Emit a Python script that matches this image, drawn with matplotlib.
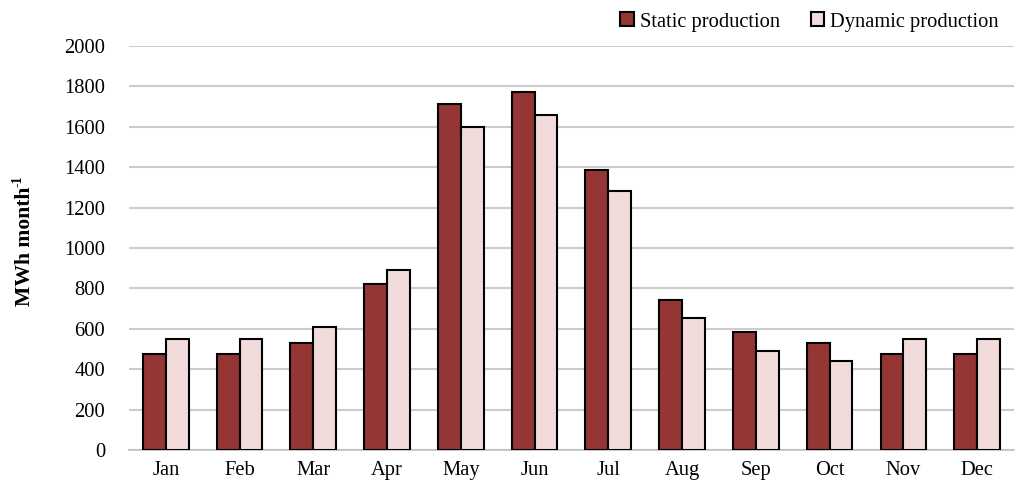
import numpy as np
import matplotlib.pyplot as plt

months = ['Jan', 'Feb', 'Mar', 'Apr', 'May', 'Jun', 'Jul', 'Aug', 'Sep', 'Oct', 'Nov', 'Dec']
static_prod = [473, 473, 532, 820, 1711, 1770, 1388, 745, 582, 532, 473, 473]
dynamic_prod = [551, 551, 607, 893, 1600, 1658, 1280, 651, 488, 440, 551, 551]

plt.rcParams['font.family'] = ['Liberation Serif', 'DejaVu Serif']

fig = plt.figure(figsize=(10.26, 4.98), dpi=100)
ax = fig.add_axes([0.1257, 0.0964, 0.8626, 0.8112])

x = np.arange(len(months))
w = 0.31
ax.bar(x - w / 2, static_prod, w, color='#943634', edgecolor='black', linewidth=1.5,
       label='Static production', zorder=3)
ax.bar(x + w / 2, dynamic_prod, w, color='#F2DCDB', edgecolor='black', linewidth=1.5,
       label='Dynamic production', zorder=3)

ax.set_xlim(-0.5, len(months) - 0.5)
ax.set_ylim(0, 2000)
ax.set_yticks(np.arange(0, 2001, 200))
ax.set_xticks(x)
ax.set_xticklabels(months)
ax.tick_params(axis='both', length=0, labelsize=14.8)
ax.tick_params(axis='y', pad=17)
ax.tick_params(axis='x', pad=8)
ax.grid(axis='y', color='#cccccc', linewidth=1.5, zorder=0)

for s in ['top', 'right', 'left']:
    ax.spines[s].set_visible(False)
ax.spines['bottom'].set_color('#bfbfbf')
ax.spines['bottom'].set_linewidth(1.2)

# y label with a small "-1" superscript
fig.text(25 / 1026, 1 - 306 / 498, 'MWh month', rotation=90, fontsize=15.6,
         fontweight='bold', ha='center', va='bottom')
fig.text(18 / 1026, 1 - 187 / 498, '-1', rotation=90, fontsize=10,
         fontweight='bold', ha='center', va='bottom')

ax.legend(loc='lower right', bbox_to_anchor=(1.004, 0.99), ncol=2, frameon=False,
          fontsize=14.8, handlelength=0.65, handleheight=0.65, handletextpad=0.3,
          columnspacing=1.5, borderaxespad=0.5)

fig.savefig('out.png', dpi=100)
